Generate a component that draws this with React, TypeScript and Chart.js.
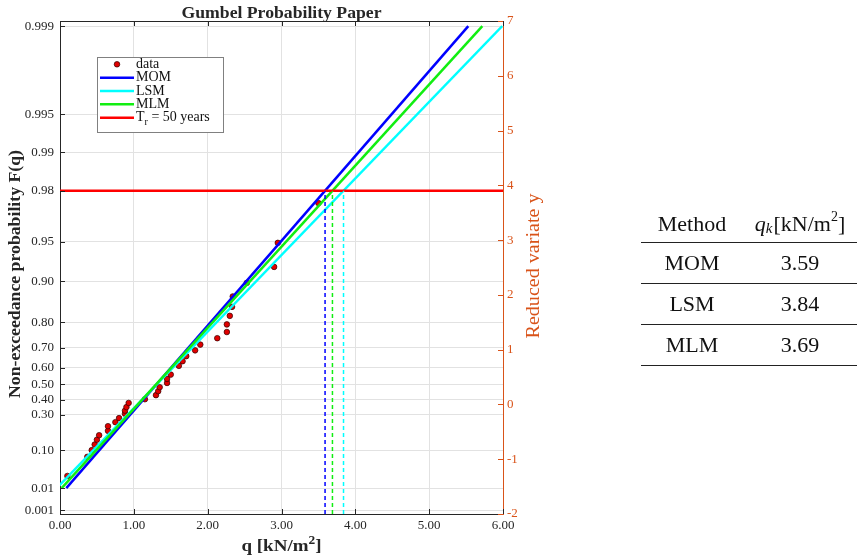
import { useEffect, useRef } from "react";
import { Chart, registerables } from "chart.js";

Chart.register(...registerables);

// Observed loads q [kN/m²] and their plotting-position probabilities F
const sampleLoad = [
  0.10, 0.37, 0.43, 0.47, 0.50, 0.53, 0.65, 0.65, 0.75, 0.80, 0.88, 0.88,
  0.90, 0.93, 1.15, 1.30, 1.33, 1.35, 1.45, 1.45, 1.50, 1.61, 1.66, 1.71,
  1.83, 1.90, 2.13, 2.26, 2.26, 2.30, 2.33, 2.34, 2.53, 2.90, 2.95, 3.50,
];
const sampleProb = [
  0.025, 0.074, 0.100, 0.125, 0.149, 0.173, 0.198, 0.226, 0.251, 0.277, 0.306, 0.326,
  0.350, 0.378, 0.403, 0.430, 0.456, 0.482, 0.509, 0.534, 0.560, 0.610, 0.635, 0.661,
  0.689, 0.715, 0.742, 0.766, 0.793, 0.820, 0.845, 0.870, 0.897, 0.922, 0.949, 0.975,
];

// Fitted Gumbel distributions
const methodNames = ["MOM", "LSM", "MLM"];
const characteristicLoad = [3.59, 3.84, 3.69]; // q_k at F = 1 - 1/Tr
const loadAtUpperProb = [5.53, 5.99, 5.72]; // q at the upper end of the fitted range
const fitProbRange = [0.01, 0.999];
const returnPeriod = 50;

// Axis ticks
const qTicks = [0, 1, 2, 3, 4, 5, 6];
const probTicks = [0.001, 0.01, 0.1, 0.3, 0.4, 0.5, 0.6, 0.7, 0.8, 0.9, 0.95, 0.98, 0.99, 0.995, 0.999];
const probTickLabels = [
  "0.001", "0.01", "0.10", "0.30", "0.40", "0.50", "0.60", "0.70",
  "0.80", "0.90", "0.95", "0.98", "0.99", "0.995", "0.999",
];
const reducedTicks = [-2, -1, 0, 1, 2, 3, 4, 5, 6, 7];

// Styling
const SERIF = "'Liberation Serif', 'Times New Roman', serif";
const AXIS = "#262626";
const ORANGE = "#D95319";
const GRID = "#e2e2e2";
const methodColors = ["#0000ff", "#00ffff", "#11ee11"];

const reducedVariate = (F: number) => -Math.log(-Math.log(F));

const yDesign = reducedVariate(1 - 1 / returnPeriod);
const yLow = reducedVariate(fitProbRange[0]);
const yHigh = reducedVariate(fitProbRange[1]);

function fitLine(i: number) {
  const qk = characteristicLoad[i];
  const qHigh = loadAtUpperProb[i];
  const slope = (yHigh - yDesign) / (qHigh - qk);
  const qLow = qk - (yDesign - yLow) / slope;
  return [
    { x: qLow, y: yLow },
    { x: qHigh, y: yHigh },
  ];
}

type Run = { text: string; size: number; bold?: boolean; italic?: boolean; dy?: number };

const runFont = (r: Run) => `${r.italic ? "italic " : ""}${r.bold ? "bold " : ""}${r.size}px ${SERIF}`;

// Draw a line of mixed-style text centred on (cx, baseline cy), optionally rotated and fitted to a width
function drawRuns(
  ctx: CanvasRenderingContext2D,
  runs: Run[],
  cx: number,
  cy: number,
  angle: number,
  color: string,
  width?: number
) {
  ctx.save();
  ctx.translate(cx, cy);
  ctx.rotate(angle);
  const widths = runs.map((r) => {
    ctx.font = runFont(r);
    return ctx.measureText(r.text).width;
  });
  const natural = widths.reduce((a, b) => a + b, 0);
  if (width) ctx.scale(width / natural, 1);
  ctx.fillStyle = color;
  ctx.textAlign = "left";
  ctx.textBaseline = "alphabetic";
  let x = -natural / 2;
  runs.forEach((r, i) => {
    ctx.font = runFont(r);
    ctx.fillText(r.text, x, r.dy || 0);
    x += widths[i];
  });
  ctx.restore();
}

const framePlugin = {
  id: "gumbelFrame",
  afterDraw(chart: any) {
    const { ctx, chartArea: a, scales } = chart;
    const xs = scales.x;
    const ys = scales.y;
    const tick = 5;
    ctx.save();

    // top edge of the box
    ctx.strokeStyle = AXIS;
    ctx.lineWidth = 1;
    ctx.beginPath();
    ctx.moveTo(a.left, Math.round(a.top) + 0.5);
    ctx.lineTo(a.right, Math.round(a.top) + 0.5);
    ctx.stroke();

    // inward tick marks on bottom/top
    ctx.beginPath();
    qTicks.forEach((q) => {
      const px = Math.round(xs.getPixelForValue(q)) + 0.5;
      ctx.moveTo(px, a.bottom);
      ctx.lineTo(px, a.bottom - tick);
      ctx.moveTo(px, a.top);
      ctx.lineTo(px, a.top + tick);
    });
    // left ticks at probability marks
    probTicks.forEach((f) => {
      const py = Math.round(ys.getPixelForValue(reducedVariate(f))) + 0.5;
      ctx.moveTo(a.left, py);
      ctx.lineTo(a.left + tick, py);
    });
    ctx.stroke();

    // right ticks (reduced variate)
    ctx.strokeStyle = ORANGE;
    ctx.beginPath();
    reducedTicks.forEach((v) => {
      const py = Math.round(ys.getPixelForValue(v)) + 0.5;
      ctx.moveTo(a.right, py);
      ctx.lineTo(a.right - tick, py);
    });
    ctx.stroke();

    // titles
    const midX = (a.left + a.right) / 2;
    drawRuns(ctx, [{ text: "Gumbel Probability Paper", size: 16, bold: true }], midX, 18, 0, AXIS, 200);
    drawRuns(
      ctx,
      [
        { text: "q [kN/m", size: 17, bold: true },
        { text: "2", size: 12, bold: true, dy: -7 },
        { text: "]", size: 17, bold: true },
      ],
      midX,
      551,
      0,
      AXIS,
      80
    );
    drawRuns(
      ctx,
      [{ text: "Non-exceedance probability F(q)", size: 17, bold: true }],
      20,
      274,
      -Math.PI / 2,
      AXIS,
      248
    );
    drawRuns(ctx, [{ text: "Reduced variate y", size: 18 }], 539, 266, -Math.PI / 2, ORANGE, 145);

    // legend
    const lx = 97,
      ly = 57,
      lw = 126,
      lh = 75;
    ctx.fillStyle = "#ffffff";
    ctx.fillRect(lx, ly, lw, lh);
    ctx.strokeStyle = "#808080";
    ctx.lineWidth = 1;
    ctx.strokeRect(lx + 0.5, ly + 0.5, lw, lh);
    const rowY = (k: number) => 64.3 + k * 13.35;
    // data marker
    ctx.beginPath();
    ctx.arc(117, rowY(0), 2.8, 0, Math.PI * 2);
    ctx.fillStyle = "#e00000";
    ctx.fill();
    ctx.strokeStyle = "#300000";
    ctx.lineWidth = 0.7;
    ctx.stroke();
    const legendColors = [...methodColors, "#ff0000"];
    legendColors.forEach((c, k) => {
      ctx.strokeStyle = c;
      ctx.lineWidth = 2.5;
      ctx.beginPath();
      ctx.moveTo(100, rowY(k + 1));
      ctx.lineTo(134, rowY(k + 1));
      ctx.stroke();
    });
    ctx.fillStyle = "#111";
    ctx.textAlign = "left";
    ctx.textBaseline = "middle";
    ctx.font = `14px ${SERIF}`;
    ctx.fillText("data", 136, rowY(0));
    methodNames.forEach((m, k) => ctx.fillText(m, 136, rowY(k + 1)));
    const ty = rowY(4);
    ctx.fillText("T", 136, ty);
    const tW = ctx.measureText("T").width;
    ctx.font = `10px ${SERIF}`;
    ctx.fillText("r", 136 + tW, ty + 5);
    const rW = ctx.measureText("r").width;
    ctx.font = `14px ${SERIF}`;
    ctx.fillText(` = ${returnPeriod} years`, 136 + tW + rW, ty);

    ctx.restore();
  },
};

function buildConfig(): any {
  const datasets: any[] = [];

  datasets.push({
    label: "data",
    data: sampleLoad.map((q, i) => ({ x: q, y: reducedVariate(sampleProb[i]) })),
    showLine: false,
    pointRadius: 2.8,
    pointBackgroundColor: "#e00000",
    pointBorderColor: "#300000",
    pointBorderWidth: 0.7,
    order: 10,
  });

  methodNames.forEach((m, i) => {
    datasets.push({
      label: m,
      data: fitLine(i),
      showLine: true,
      borderColor: methodColors[i],
      borderWidth: 2.5,
      pointRadius: 0,
      clip: 0,
      order: 9 - i,
    });
  });

  datasets.push({
    label: `Tr = ${returnPeriod} years`,
    data: [
      { x: qTicks[0], y: yDesign },
      { x: qTicks[qTicks.length - 1], y: yDesign },
    ],
    showLine: true,
    borderColor: "#ff0000",
    borderWidth: 2.5,
    pointRadius: 0,
    clip: 0,
    order: 5,
  });

  methodNames.forEach((m, i) => {
    datasets.push({
      label: `${m} q_k`,
      data: [
        { x: characteristicLoad[i], y: reducedTicks[0] },
        { x: characteristicLoad[i], y: yDesign },
      ],
      showLine: true,
      borderColor: methodColors[i],
      borderWidth: 1.5,
      borderDash: [4, 3],
      pointRadius: 0,
      clip: 0,
      order: 4 - i,
    });
  });

  const tickFont = { family: SERIF, size: 13 };

  return {
    type: "scatter",
    data: { datasets },
    options: {
      responsive: false,
      animation: false,
      devicePixelRatio: 1,
      layout: { padding: { top: 21, left: 0, right: 0, bottom: 0 } },
      plugins: {
        legend: { display: false },
        tooltip: { enabled: false },
        title: { display: false },
      },
      scales: {
        x: {
          type: "linear",
          position: "bottom",
          min: qTicks[0],
          max: qTicks[qTicks.length - 1],
          afterBuildTicks: (s: any) => {
            s.ticks = qTicks.map((v) => ({ value: v }));
          },
          ticks: {
            autoSkip: false,
            maxRotation: 0,
            padding: 4,
            font: tickFont,
            color: AXIS,
            callback: (v: any) => Number(v).toFixed(2),
          },
          grid: { color: GRID, drawTicks: false, lineWidth: 1 },
          border: { color: AXIS, width: 1 },
          afterFit: (s: any) => {
            s.height = 45;
          },
        },
        y: {
          type: "linear",
          position: "left",
          min: reducedTicks[0],
          max: reducedTicks[reducedTicks.length - 1],
          afterBuildTicks: (s: any) => {
            s.ticks = probTicks.map((f) => ({ value: reducedVariate(f) }));
          },
          ticks: {
            autoSkip: false,
            padding: 6,
            font: tickFont,
            color: AXIS,
            callback: (v: any) => {
              const k = probTicks.findIndex((f) => Math.abs(reducedVariate(f) - v) < 1e-6);
              return k >= 0 ? probTickLabels[k] : "";
            },
          },
          grid: { color: GRID, drawTicks: false, lineWidth: 1 },
          border: { color: AXIS, width: 1 },
          afterFit: (s: any) => {
            s.width = 60;
          },
        },
        y2: {
          type: "linear",
          position: "right",
          min: reducedTicks[0],
          max: reducedTicks[reducedTicks.length - 1],
          afterBuildTicks: (s: any) => {
            s.ticks = reducedTicks.map((v) => ({ value: v }));
          },
          ticks: {
            autoSkip: false,
            padding: 4,
            font: tickFont,
            color: ORANGE,
            callback: (v: any) => String(v),
          },
          grid: { display: false, drawTicks: false },
          border: { color: ORANGE, width: 1 },
          afterFit: (s: any) => {
            s.width = 354;
          },
        },
      },
    },
    plugins: [framePlugin],
  };
}

const cellBase: any = {
  display: "flex",
  alignItems: "center",
  justifyContent: "center",
};

function ResultTable() {
  const rowStyle: any = {
    display: "flex",
    height: 40,
    borderBottom: "1px solid #222",
  };
  return (
    <div
      style={{
        position: "absolute",
        left: 641,
        top: 205,
        width: 216,
        fontFamily: SERIF,
        fontSize: 22,
        color: "#111",
      }}
    >
      <div style={{ ...rowStyle, height: 37 }}>
        <div style={{ ...cellBase, width: 102 }}>Method</div>
        <div style={{ ...cellBase, width: 114 }}>
          <span style={{ fontStyle: "italic" }}>q</span>
          <span style={{ fontStyle: "italic", fontSize: 15, position: "relative", top: 5, marginRight: 1 }}>k</span>
          <span>[kN/m</span>
          <span style={{ fontSize: 14, position: "relative", top: -7 }}>2</span>
          <span>]</span>
        </div>
      </div>
      {methodNames.map((m, i) => (
        <div key={m} style={rowStyle}>
          <div style={{ ...cellBase, width: 102 }}>{m}</div>
          <div style={{ ...cellBase, width: 114 }}>{characteristicLoad[i].toFixed(2)}</div>
        </div>
      ))}
    </div>
  );
}

export default function App() {
  const canvasRef = useRef<HTMLCanvasElement>(null);

  useEffect(() => {
    const chart = new Chart(canvasRef.current as HTMLCanvasElement, buildConfig());
    return () => chart.destroy();
  }, []);

  return (
    <div style={{ position: "absolute", left: 0, top: 0, width: 857, height: 559, background: "#ffffff" }}>
      <canvas ref={canvasRef} width={857} height={559} style={{ position: "absolute", left: 0, top: 0 }} />
      <ResultTable />
    </div>
  );
}
